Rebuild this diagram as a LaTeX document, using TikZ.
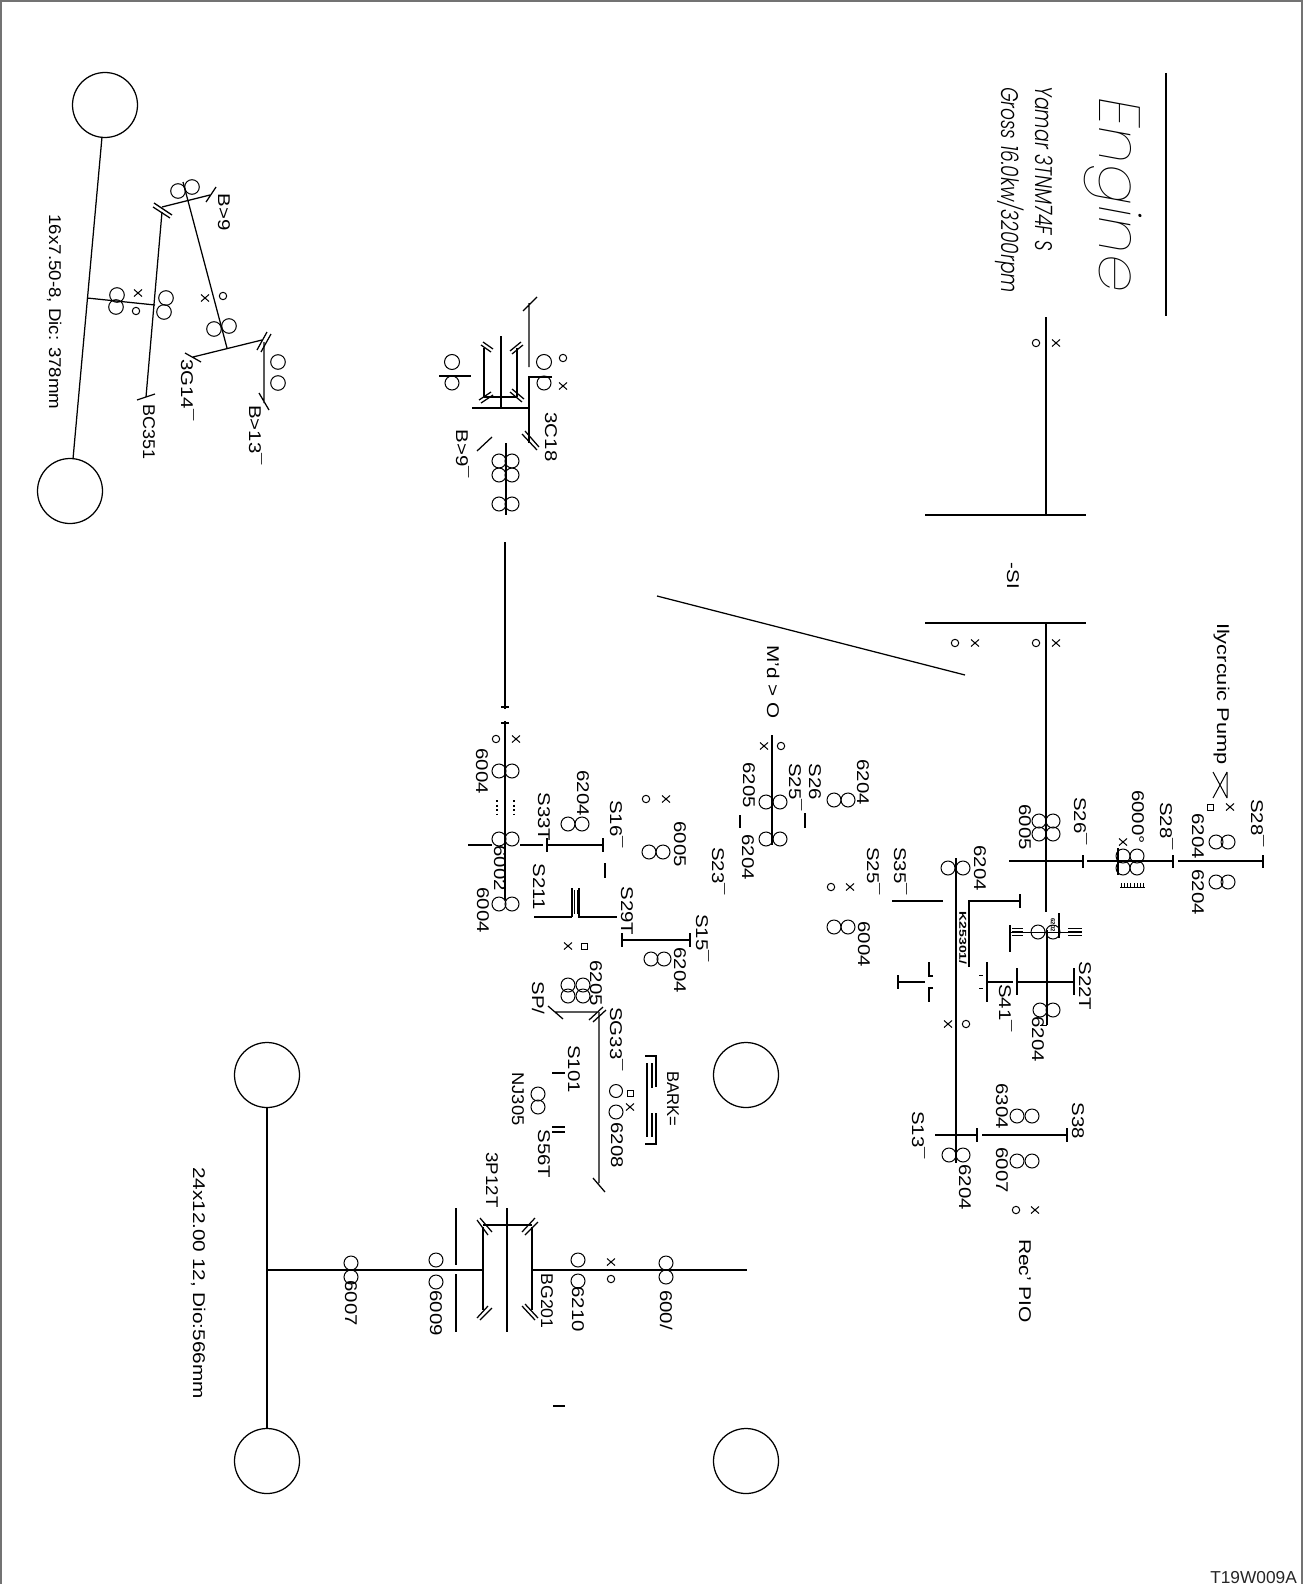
\documentclass[tikz,border=0pt]{standalone}
\usepackage{fontspec}
\setmainfont{Liberation Sans}
\newfontfamily\thinf{Poppins}[UprightFont=* Thin,ItalicFont=* Thin Italic]
\newfontfamily\lightf{Poppins}[UprightFont=* Light,ItalicFont=* Light Italic]
\newcounter{lb}
\tikzset{
  x=1pt,y=-1pt,
  ln/.style={line width=1.25pt,black},
  thin ln/.style={line width=1pt,black},
  labn/.style={rotate=-90,inner sep=0pt,text height=12pt,text depth=0pt,anchor=center,black},
  smalln/.style={rotate=-90,inner sep=0pt,anchor=center,black},
}
\newcommand{\lab}[3]{\stepcounter{lb}\node[labn] (L\thelb) at (#1,#2) {\scalebox{1.2}[1]{\fontsize{17}{18}\selectfont #3}};}
\newcommand{\wlab}[4]{\stepcounter{lb}\node[labn] (L\thelb) at (#1,#2) {\resizebox{#3pt}{\height}{\fontsize{17}{18}\selectfont #4}};}
\newcommand{\brg}[3][7]{\draw[thin ln] (#2,#3) circle[radius=#1];}
\newcommand{\omk}[2]{\draw[thin ln] (#1,#2) circle[radius=3.7];}
\newcommand{\xmk}[2]{\draw[thin ln] (#1-4,#2-3.5) -- (#1+4,#2+3.5) (#1-4,#2+3.5) -- (#1+4,#2-3.5);}
\newcommand{\squ}[2]{\draw[thin ln] (#1-3,#2-3) rectangle (#1+3,#2+3);}
\newcommand{\whl}[2]{\draw[ln] (#1,#2) circle[radius=32.5];}
\begin{document}
\begin{tikzpicture}
\useasboundingbox (0,0) rectangle (1305,1584);
% frame
\draw[line width=1.6pt,black!55] (1,1584) -- (1,1) -- (1302,1) -- (1302,1584);
% title block
\draw[ln] (1166,73) -- (1166,316);
\stepcounter{lb}\node[smalln] (L\thelb) at (1113,195) {\resizebox{195pt}{\height}{\thinf\itshape\fontsize{58}{62}\selectfont Engine}};
\stepcounter{lb}\node[smalln] (L\thelb) at (1044,169) {\resizebox{165pt}{\height}{\lightf\itshape\fontsize{24}{28}\selectfont Yamar 3TNM74F S}};
\stepcounter{lb}\node[smalln] (L\thelb) at (1010,190) {\resizebox{206pt}{\height}{\lightf\itshape\fontsize{24}{28}\selectfont Gross 16.0kw/3200rpm}};
% input shaft
\draw[ln] (1046,317) -- (1046,515);
\draw[ln] (925,515) -- (1086,515);
\draw[ln] (925,623) -- (1086,623);
\draw[ln] (1046,623) -- (1046,912);
\omk{1036}{343}\xmk{1056}{343}
\omk{1036}{643}\xmk{1056}{643}
\omk{955}{643}\xmk{975}{643}
\draw[ln] (657,596) -- (965,675);
\lab{1013}{576}{-SI}
\wlab{1223}{694}{142}{Ilycrcuic Pump}
\draw[thin ln] (1227,772) -- (1227,798) (1213,772) -- (1227,798) (1213,798) -- (1227,772);
\squ{1210}{807}\xmk{1230}{807}
% upper right gearing
\foreach \a/\b in {1039/821,1053/821,1039/834,1053/834,1123/856,1137/856,1123/868,1137/868,1216/842,1228/842,1216/882,1228/882}{\brg{\a}{\b}}
\draw[ln] (1009,861) -- (1083,861) (1083,855) -- (1083,868);
\draw[ln] (1087,861) -- (1173,861) (1173,855) -- (1173,868);
\draw[ln] (1178,861) -- (1263,861) (1263,855) -- (1263,868);
\draw[ln] (1118,848) -- (1118,875);
\xmk{1123}{842}
\draw[thin ln] (1120,887) -- (1145,887);
\foreach \a in {1121,1124,1127,1130,1134,1137,1140,1143}{\draw[thin ln] (\a,883) -- (\a,887);}
\lab{1025}{827}{6005}
\lab{1080}{821}{S26¯}
\lab{1138}{817}{6000°}
\lab{1166}{826}{S28¯}
\lab{1198}{836}{6204}
\lab{1198}{892}{6204}
\lab{1257}{823}{S28¯}
% second shaft
\draw[ln] (956,858) -- (956,1163);
\brg{948}{868}\brg{963}{868}
\lab{980}{868}{6204}
\lab{873}{871}{S25¯}
\lab{900}{871}{S35¯}
\omk{831}{887}\xmk{850}{887}
\brg{834}{927}\brg{848}{927}
\lab{864}{944}{6004}
\draw[ln] (892,901) -- (943,901);
\draw[ln] (969,967) -- (969,901) -- (1020,901) (1020,894) -- (1020,908);
\stepcounter{lb}\node[smalln] (L\thelb) at (963,938) {\resizebox{53pt}{\height}{\fontsize{10}{11}\selectfont\bfseries K25301/}};
% clutch on first shaft
\draw[ln] (1047,930) -- (1047,1025);
\brg{1038}{932}\brg{1053}{932}
\stepcounter{lb}\node[smalln] (L\thelb) at (1053,925) {\fontsize{6}{7}\selectfont\bfseries 6202};
\draw[thin ln] (1010,932) -- (1082,932);
\draw[ln] (1010,925) -- (1010,952) (1059,913) -- (1059,938);
\draw[line width=1.4pt] (1012,928.5) -- (1023,928.5) (1012,932) -- (1023,932) (1012,935.5) -- (1023,935.5);
\draw[line width=1.4pt] (1068,928.5) -- (1082,928.5) (1068,932) -- (1082,932) (1068,935.5) -- (1082,935.5);
\draw[ln] (987,982) -- (1013,982) (987,962) -- (987,1002);
\draw[ln] (1017,968) -- (1017,995) (1017,982) -- (1074,982) (1074,968) -- (1074,995);
\draw[thin ln] (979,975) -- (983,975) (979,988) -- (983,988);
\lab{1085}{986}{S22T}
\lab{1005}{1008}{S41¯}
\brg{1040}{1010}\brg{1053}{1010}
\draw[thin ln] (1040,1025) -- (1047,1025);
\lab{1038}{1039}{6204}
\draw[ln] (898,982) -- (925,982) (898,975) -- (898,989);
\draw[ln] (933,976) -- (929,976) -- (929,962) (933,988) -- (929,988) -- (929,1002);
\xmk{948}{1024}\omk{966}{1024}
% PTO
\draw[ln] (935,1135) -- (977,1135) (977,1128) -- (977,1142);
\draw[ln] (982,1135) -- (1067,1135) (1067,1128) -- (1067,1142);
\brg{949}{1155}\brg{963}{1155}
\brg{1017}{1116}\brg{1032}{1116}
\brg{1017}{1161}\brg{1032}{1161}
\lab{918}{1135}{S13¯}
\lab{965}{1187}{6204}
\lab{1002}{1106}{6304}
\lab{1002}{1170}{6007}
\lab{1078}{1121}{S38}
\omk{1016}{1210}\xmk{1035}{1210}
\wlab{1025}{1281}{84}{Rec' PIO}
% mid shaft
\draw[ln] (772,735) -- (772,845);
\xmk{764}{746}\omk{781}{746}
\foreach \a/\b in {766/802,780/802,766/839,780/839,834/800,848/800}{\brg{\a}{\b}}
\lab{749}{785}{6205}
\draw[ln] (740,815) -- (740,828);
\lab{748}{857}{6204}
\lab{795}{787}{S25¯}
\draw[ln] (805,813) -- (805,828);
\lab{815}{782}{S26}
\lab{863}{782}{6204}
\wlab{773}{682}{73}{M'd > O}
% main rear shaft
\draw[ln] (506,443) -- (506,515);
\draw[ln] (505,542) -- (505,709) (501,707) -- (509,707);
\draw[ln] (505,721) -- (505,900) (501,723) -- (509,723);
\omk{496}{739}\xmk{516}{739}
\foreach \a/\b in {499/771,512/771,499/839,512/839,499/904,512/904,568/824,582/824,649/852,663/852,651/959,664/959,499/461,512/461,499/475,512/475,499/504,512/504}{\brg{\a}{\b}}
\draw[line width=2.4pt] (505,797) -- (505,817);
\draw[line width=1.5pt,dash pattern=on 2pt off 2.5pt] (497,800) -- (497,815) (514,800) -- (514,815);
\draw[ln] (468,845) -- (492,845) (520,845) -- (543,845);
\draw[ln] (547,845) -- (603,845) (547,838) -- (547,852) (603,838) -- (603,852);
\draw[ln] (605,863) -- (605,878);
\lab{482}{771}{6004}
\lab{583}{793}{6204}
\lab{544}{817}{S33T}
\lab{616}{824}{S16¯}
\lab{500}{868}{6002}
\lab{483}{910}{6004}
\lab{539}{887}{S211}
\draw[ln] (534,917) -- (572,917) (572,888) -- (572,917);
\draw[ln] (579,888) -- (579,917) -- (617,917);
\draw[thin ln] (574.5,890) -- (574.5,914) (577,890) -- (577,914);
\lab{627}{911}{S29T}
\draw[ln] (622,940) -- (690,940) (622,933) -- (622,947) (690,933) -- (690,947);
\lab{702}{938}{S15¯}
\lab{680}{970}{6204}
\xmk{568}{946}\squ{584}{946}
\omk{646}{799}\xmk{666}{799}
\lab{680}{844}{6005}
\lab{718}{871}{S23¯}
% brake shaft
\foreach \a/\b in {568/985,583/985,568/996,583/996}{\brg{\a}{\b}}
\lab{596}{983}{6205}
\lab{538}{998}{SP/}
\draw[ln] (555,1012) -- (597,1012) (548,1006) -- (563,1019);
\draw[ln] (589,1020) -- (603,1007) (593,1022) -- (606,1010);
\draw[ln] (599,1012) -- (599,1183) (593,1178) -- (605,1192);
\lab{616}{1039}{SG33¯}
\squ{630}{1093}\xmk{630}{1107}
\brg[6.5]{616}{1091}\brg{616}{1112}
\lab{617}{1145}{6208}
\wlab{673}{1099}{55}{BARK=}
\draw[ln] (645,1056) -- (656,1056) -- (656,1087) (656,1113) -- (656,1144) -- (645,1144);
\draw[ln] (652,1063) -- (652,1088) (652,1113) -- (652,1137) (647,1063) -- (647,1137);
\lab{574}{1069}{S101}
\draw[ln] (552,1073) -- (565,1073) (552,1127) -- (565,1127) (552,1132) -- (565,1132);
\brg{538}{1094}\brg{538}{1107}
\wlab{518}{1099}{53}{NJ305}
\lab{544}{1154}{S56T}
% rear axle
\draw[ln] (268,1270) -- (483,1270) (532,1270) -- (747,1270);
\draw[ln] (267,1108) -- (267,1428);
\whl{267}{1075}\whl{267}{1461}\whl{746}{1075}\whl{746}{1461}
\draw[ln] (456,1208) -- (456,1265) (456,1274) -- (456,1332);
\draw[ln] (507,1208) -- (507,1332);
\draw[ln] (483,1227) -- (483,1310) (532,1227) -- (532,1310) (483,1225) -- (532,1225);
\draw[ln] (477,1220) -- (488,1235) (480,1218) -- (492,1232);
\draw[ln] (522,1232) -- (535,1218) (525,1235) -- (538,1222);
\draw[ln] (477,1318) -- (488,1306) (480,1320) -- (492,1308);
\draw[ln] (522,1306) -- (535,1320) (525,1304) -- (538,1318);
\foreach \a/\b in {436/1260,436/1282,578/1260,578/1281,666/1263,666/1277,351/1263,351/1277}{\brg{\a}{\b}}
\lab{436}{1313}{6009}
\lab{578}{1309}{6210}
\lab{666}{1310}{600/}
\lab{351}{1303}{6007}
\wlab{547}{1301}{55}{BG201}
\wlab{492}{1180}{55}{3P12T}
\xmk{611}{1262}\omk{611}{1279}
\wlab{199}{1283}{232}{24x12.00 12, Dio:566mm}
\draw[ln] (553,1406) -- (565,1406);
% front differential group
\draw[ln] (523,311) -- (537,297) (529,303) -- (529,367);
\draw[ln] (552,377) -- (529,377) -- (529,443);
\brg[7.5]{544}{362}\brg{544}{383}\brg[7.5]{452}{362}\brg{452}{383}
\omk{563}{358}\xmk{563}{386}
\draw[ln] (439,376) -- (471,376);
\draw[ln] (501,336) -- (501,408) (472,408) -- (529,408);
\draw[ln] (484,348) -- (484,397) (517,348) -- (517,397) (484,397) -- (517,397);
\draw[ln] (481,345) -- (491,352) (483,342) -- (493,349);
\draw[ln] (510,351) -- (521,342) (512,354) -- (523,345);
\draw[ln] (479,400) -- (491,392) (481,403) -- (493,395);
\draw[ln] (510,392) -- (522,402) (512,389) -- (524,399);
\draw[ln] (522,434) -- (537,450) (525,431) -- (539,447);
\draw[ln] (477,451) -- (492,437);
\lab{551}{437}{3C18}
\lab{462}{454}{B>9¯}
% front axle
\whl{105}{105}\whl{70}{491}
\draw[ln] (102,137) -- (73,459);
\draw[ln] (87,298) -- (155,305);
\foreach \a/\b in {117/295,116/307,166/298,164/312,178/191,192/187,214/329,229/326,278/362,278/383}{\brg[7.3]{\a}{\b}}
\xmk{138}{293}\omk{136}{311}
\draw[ln] (162,212) -- (146,397) (137,400) -- (155,394);
\draw[ln] (154,203) -- (172,215) (153,207) -- (170,218);
\draw[ln] (162,207) -- (210,195) (206,202) -- (216,187);
\draw[ln] (183,182) -- (227,348);
\xmk{205}{298}\omk{223}{296}
\draw[ln] (185,353) -- (201,362) (193,357) -- (262,340);
\draw[ln] (257,350) -- (267,332) (261,352) -- (271,334);
\draw[ln] (264,342) -- (264,403) (259,393) -- (269,410);
\lab{224}{212}{B>9}
\lab{187}{390}{3G14¯}
\wlab{149}{432}{55}{BC351}
\lab{255}{435}{B>13¯}
\wlab{55}{312}{195}{16x7.50-8, Dic: 378mm}
% code
\stepcounter{lb}\node[inner sep=0pt,anchor=base east] (L\thelb) at (1297,1583) {\fontsize{17.3}{19}\selectfont\color{black!85}T19W009A};
\end{tikzpicture}
\end{document}
